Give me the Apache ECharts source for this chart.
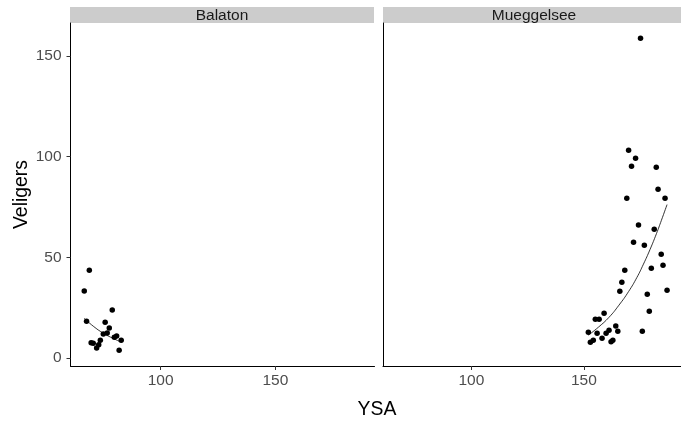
<!DOCTYPE html>
<html>
<head>
<meta charset="utf-8">
<script src="https://cdn.jsdelivr.net/npm/echarts@6/dist/echarts.min.js"></script>
<style>
html,body{margin:0;padding:0;background:#fff;}
#chart{width:681px;height:421px;}
</style>
</head>
<body>
<div id="chart"></div>
<script>
// Data
const panels = ['Balaton', 'Mueggelsee'];

const balatonYSA = [68.9, 66.7, 78.9, 67.7, 75.8, 77.6, 75.0, 76.7, 80.8, 79.8, 82.8, 73.7, 69.7, 70.6, 73.0, 72.1, 81.9];
const balatonVel = [43.6, 33.3, 23.8, 18.2, 17.7, 14.9, 11.9, 12.4, 10.9, 10.3, 8.8, 8.8, 7.5, 7.3, 6.5, 5.0, 3.8];

const muegYSA = [175.2, 169.9, 173.0, 171.2, 182.2, 183.0, 169.1, 186.1, 174.3, 181.3, 172.1, 176.9,
  184.4, 185.2, 180.0, 168.2, 166.9, 166.0, 187.0, 178.2, 179.1, 159.0, 155.1, 156.8,
  164.2, 152.0, 155.9, 161.2, 165.1, 159.9, 176.0, 158.1, 154.2, 152.9, 162.9, 162.1];
const muegVel = [158.8, 103.2, 99.2, 95.2, 94.7, 83.8, 79.3, 79.3, 66.1, 63.9, 57.5, 56.0,
  51.5, 46.1, 44.6, 43.6, 37.6, 33.1, 33.6, 31.6, 23.2, 22.2, 19.2, 19.2,
  15.9, 12.8, 12.3, 13.8, 13.3, 12.3, 13.3, 9.8, 8.8, 7.8, 8.8, 8.1];

// fitted curves
const balatonFitX = [66.7, 70.6, 75.0, 79.3, 82.8];
const balatonFitY = [19.7, 15.8, 12.3, 9.7, 7.9];
const muegFitX = [152.0, 156.5, 161.2, 165.6, 169.9, 173.6, 176.5, 179.4, 182.3, 184.5, 187.0];
const muegFitY = [11.3, 15.3, 20.2, 26.2, 33.0, 40.0, 46.6, 53.8, 61.8, 68.4, 76.2];

const xTicks = [100, 150];
const yTicks = [0, 50, 100, 150];
const xTitle = 'YSA';
const yTitle = 'Veligers';

const zip = (a, b) => a.map((v, i) => [v, b[i]]);

const font = 'Liberation Sans, Arial, sans-serif';
const xRange = [60.7, 193.2];
const yRange = [-4, 166.4];

function xAxis(idx) {
  return {
    type: 'value', gridIndex: idx, min: xRange[0], max: xRange[1],
    axisLine: {show: true, onZero: false, lineStyle: {color: '#000', width: 1}},
    axisTick: {show: true, length: 4, customValues: xTicks, lineStyle: {color: '#333', width: 1}},
    axisLabel: {show: true, customValues: xTicks, margin: 7, color: '#4D4D4D', fontSize: 15.5, fontFamily: font},
    splitLine: {show: false}
  };
}
function yAxis(idx, labels) {
  return {
    type: 'value', gridIndex: idx, min: yRange[0], max: yRange[1],
    axisLine: {show: true, onZero: false, lineStyle: {color: '#000', width: 1}},
    axisTick: {show: labels, length: 4, customValues: yTicks, lineStyle: {color: '#333', width: 1}},
    axisLabel: {show: labels, customValues: yTicks, margin: 9, color: '#4D4D4D', fontSize: 15.5, fontFamily: font},
    splitLine: {show: false},
    name: labels ? yTitle : '',
    nameLocation: 'middle', nameGap: 39, nameRotate: 90,
    nameTextStyle: {color: '#000', fontSize: 19.4, fontFamily: font}
  };
}

const chart = echarts.init(document.getElementById('chart'), null, {renderer: 'canvas'});
const pointStyle = {color: '#000', opacity: 1};
chart.setOption({
  animation: false,
  backgroundColor: '#fff',
  grid: [
    {left: 70.5, top: 23, width: 304, height: 343},
    {left: 383, top: 23, width: 304, height: 343}
  ],
  xAxis: [xAxis(0), xAxis(1)],
  yAxis: [yAxis(0, true), yAxis(1, false)],
  series: [
    {type: 'scatter', xAxisIndex: 0, yAxisIndex: 0, data: zip(balatonYSA, balatonVel), symbolSize: 5.5, itemStyle: pointStyle},
    {type: 'line', xAxisIndex: 0, yAxisIndex: 0, data: zip(balatonFitX, balatonFitY), smooth: true, showSymbol: false, lineStyle: {color: '#000', width: 0.8}},
    {type: 'scatter', xAxisIndex: 1, yAxisIndex: 1, data: zip(muegYSA, muegVel), symbolSize: 5.5, itemStyle: pointStyle},
    {type: 'line', xAxisIndex: 1, yAxisIndex: 1, data: zip(muegFitX, muegFitY), smooth: true, showSymbol: false, lineStyle: {color: '#000', width: 0.8}}
  ],
  graphic: [
    {type: 'rect', shape: {x: 70, y: 7, width: 304, height: 16}, style: {fill: '#CCCCCC'}, silent: true},
    {type: 'rect', shape: {x: 383, y: 7, width: 305, height: 16}, style: {fill: '#CCCCCC'}, silent: true},
    {type: 'text', x: 222, y: 15.5, style: {text: panels[0], fill: '#1A1A1A', font: '15.5px ' + font, textAlign: 'center', textVerticalAlign: 'middle', align: 'center', verticalAlign: 'middle'}},
    {type: 'text', x: 534, y: 15.5, style: {text: panels[1], fill: '#1A1A1A', font: '15.5px ' + font, textAlign: 'center', textVerticalAlign: 'middle', align: 'center', verticalAlign: 'middle'}},
    {type: 'text', x: 377, y: 410, style: {text: xTitle, fill: '#000', font: '19.4px ' + font, textAlign: 'center', textVerticalAlign: 'middle', align: 'center', verticalAlign: 'middle'}}
  ]
});
</script>
</body>
</html>
